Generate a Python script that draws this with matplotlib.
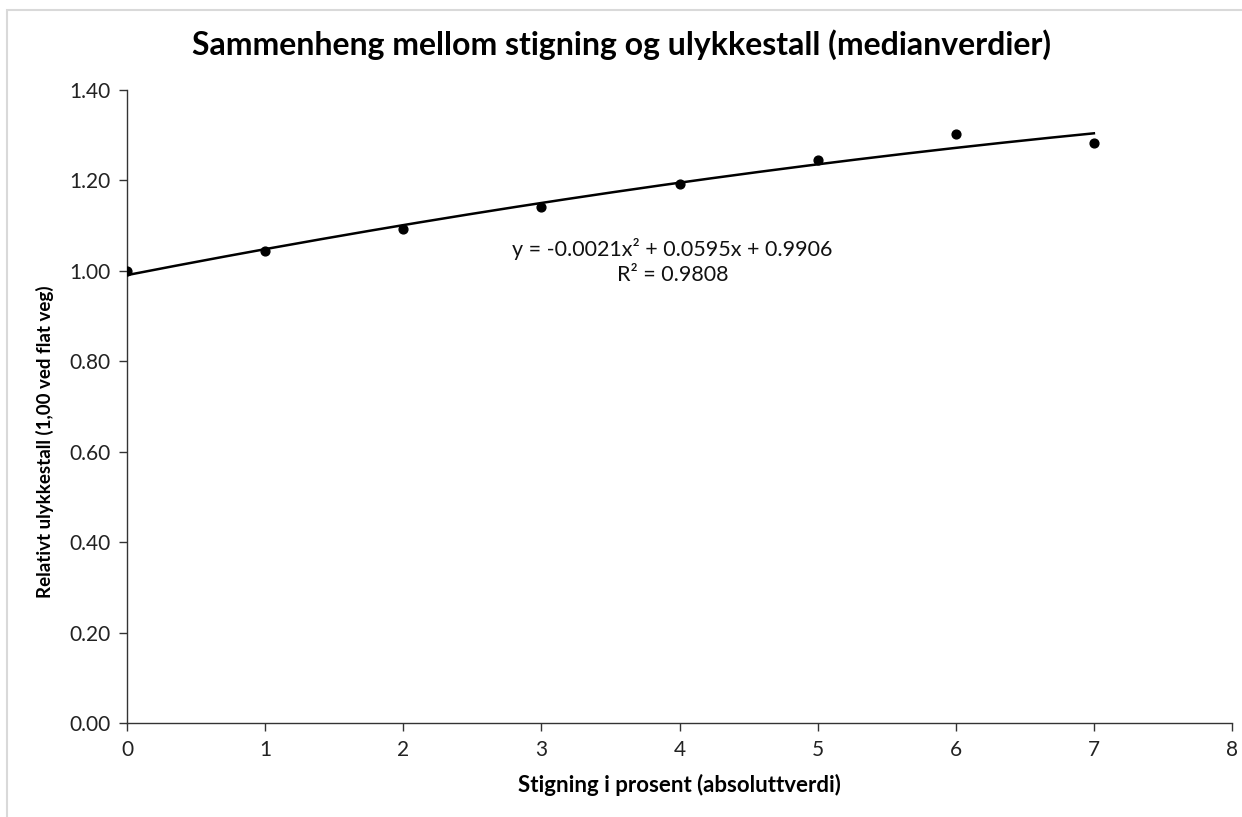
import numpy as np
import matplotlib
matplotlib.use("Agg")
import matplotlib.pyplot as plt
from matplotlib.patches import Rectangle

plt.rcParams['font.family'] = ['Lato', 'DejaVu Sans']

# Median relative accident rate by gradient (%)
stigning = [0, 1, 2, 3, 4, 5, 6, 7]
ulykkestall = [1.00, 1.044, 1.093, 1.142, 1.192, 1.246, 1.303, 1.283]

# Quadratic trendline coefficients (a, b, c) and R²
coef = [-0.0021, 0.0595, 0.9906]
r2 = 0.9808

x_ticks = [0, 1, 2, 3, 4, 5, 6, 7, 8]
y_ticks = [0.0, 0.2, 0.4, 0.6, 0.8, 1.0, 1.2, 1.4]

W, H = 1242, 817
fig = plt.figure(figsize=(W / 100, H / 100), dpi=100)
fig.patch.set_facecolor('white')

# light chart-area border
fig.add_artist(Rectangle((7 / W, -0.01), 1.02, 1 - 10 / H + 0.01, transform=fig.transFigure,
                         fill=False, edgecolor='#d9d9d9', linewidth=1.5))

left, right, top, bottom = 127, 1232, 90, 723
ax = fig.add_axes([left / W, 1 - bottom / H, (right - left) / W, (bottom - top) / H])

ax.scatter(stigning, ulykkestall, s=40, color='black', zorder=3)

xs = np.linspace(stigning[0], stigning[-1], 200)
ax.plot(xs, np.polyval(coef, xs), color='black', linewidth=1.8, zorder=2)

ax.set_xlim(0, 8)
ax.set_ylim(0, 1.4)
ax.set_xticks(x_ticks)
ax.set_yticks(y_ticks)
ax.set_yticklabels([f"{v:.2f}" for v in y_ticks])

for side in ['top', 'right']:
    ax.spines[side].set_visible(False)
for side in ['left', 'bottom']:
    ax.spines[side].set_color('#333333')
    ax.spines[side].set_linewidth(1.0)
ax.tick_params(axis='both', direction='out', length=6, width=1.0, color='#333333',
               labelsize=15, labelcolor='#222222', pad=6)

ax.set_xlabel('Stigning i prosent (absoluttverdi)', fontsize=16, fontweight='bold', labelpad=10)
ax.set_ylabel('Relativt ulykkestall (1,00 ved flat veg)', fontsize=13.5, fontweight='bold')
ax.yaxis.set_label_coords(-0.066, 0.445)

fig.text(0.5, 1 - 45 / H, 'Sammenheng mellom stigning og ulykkestall (medianverdier)',
         ha='center', va='center', fontsize=23, fontweight='bold')

a, b, c = coef
eq = f"y = {a:.4f}x² + {b:.4f}x + {c:.4f}\nR² = {r2:.4f}"
ax.text(3.95, 1.02, eq, ha='center', va='center', fontsize=15.5, color='#111111',
        linespacing=1.3)

fig.savefig('out.png', dpi=100, facecolor='white')
